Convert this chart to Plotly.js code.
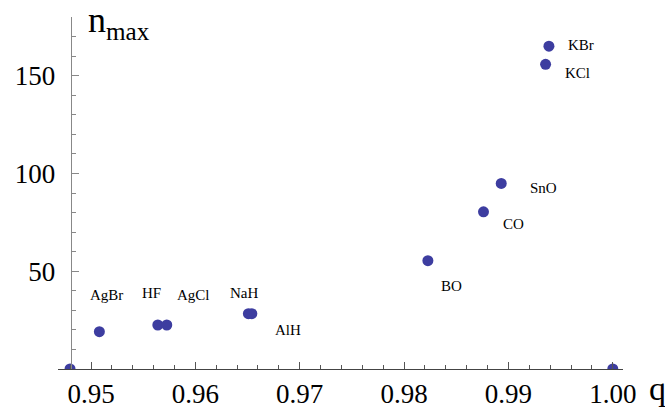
<!DOCTYPE html>
<html>
<head>
<meta charset="utf-8">
<script src="https://cdn.plot.ly/plotly-3.0.1.min.js"></script>
<style>html,body{margin:0;padding:0;background:#fff;}#chart{width:665px;height:414px;}</style>
</head>
<body>
<div id="chart"></div>
<script>
// Data
var compounds = ["", "AgBr", "HF", "AgCl", "NaH", "AlH", "BO", "CO", "SnO", "KCl", "KBr", ""];
var qValues = [0.94799, 0.95080, 0.95640, 0.95726, 0.96508, 0.96541, 0.98228, 0.98761, 0.98931, 0.99356, 0.99388, 1.00000];
var nMax = [0, 19.1, 22.5, 22.5, 28.3, 28.3, 55.4, 80.4, 94.9, 155.8, 165.1, 0];
var xTickFormat = ".2f";
var yTickVals = [50, 100, 150];

// label offsets in pixels (layout only)
var labelShift = {
  "AgBr": [7, 37], "HF": [-6, 32], "AgCl": [27, 30], "NaH": [-4, 21],
  "AlH": [36, -16], "BO": [24, -25], "CO": [30, -12], "SnO": [42, -5],
  "KCl": [32, -9], "KBr": [32, 1]
};

var serif = "Liberation Serif";

var trace = {
  type: "scatter", mode: "markers",
  x: qValues, y: nMax,
  marker: {size: 11, color: "#3d3da0"},
  cliponaxis: true, hoverinfo: "skip"
};

var annotations = [];
compounds.forEach(function (name, i) {
  if (!name) return;
  var s = labelShift[name] || [0, 0];
  annotations.push({
    x: qValues[i], y: nMax[i], xref: "x", yref: "y", text: name,
    showarrow: false, xshift: s[0], yshift: s[1],
    font: {family: serif, size: 15, color: "#000"}
  });
});
annotations.push({
  xref: "paper", yref: "paper", x: 0.0495, y: 0.985, xanchor: "left", yanchor: "middle",
  text: "n<sub>max</sub>", showarrow: false, font: {family: serif, size: 36, color: "#000"}
});
annotations.push({
  xref: "paper", yref: "paper", x: 1.042, y: -0.055, xanchor: "left", yanchor: "middle",
  text: "q", showarrow: false, font: {family: serif, size: 34, color: "#000"}
});

var layout = {
  width: 665, height: 414,
  margin: {l: 58, r: 42, t: 17, b: 45},
  paper_bgcolor: "#fff", plot_bgcolor: "#fff",
  showlegend: false,
  font: {family: serif},
  xaxis: {
    range: [0.946836, 1.000978],
    tickmode: "linear", tick0: 0.95, dtick: 0.01, tickformat: xTickFormat,
    ticks: "inside", ticklen: 7, tickwidth: 1, tickcolor: "#555",
    minor: {tickmode: "linear", tick0: 0.95, dtick: 0.002, ticks: "inside", ticklen: 4, tickcolor: "#555", showgrid: false},
    showline: true, linecolor: "#444", linewidth: 1,
    showgrid: false, zeroline: false,
    tickfont: {family: serif, size: 27, color: "#000"},
    ticklabelstandoff: 1
  },
  yaxis: {
    range: [0, 180], anchor: "free", position: 0.0225,
    tickmode: "array", tickvals: yTickVals,
    ticks: "inside", ticklen: 7, tickwidth: 1, tickcolor: "#888",
    minor: {tickmode: "linear", tick0: 0, dtick: 10, ticks: "inside", ticklen: 4, tickcolor: "#888", showgrid: false},
    showline: true, linecolor: "#888", linewidth: 1,
    showgrid: false, zeroline: false,
    tickfont: {family: serif, size: 27, color: "#000"},
    ticklabelstandoff: 10
  },
  annotations: annotations
};

Plotly.newPlot("chart", [trace], layout, {displayModeBar: false, staticPlot: true});
</script>
</body>
</html>
